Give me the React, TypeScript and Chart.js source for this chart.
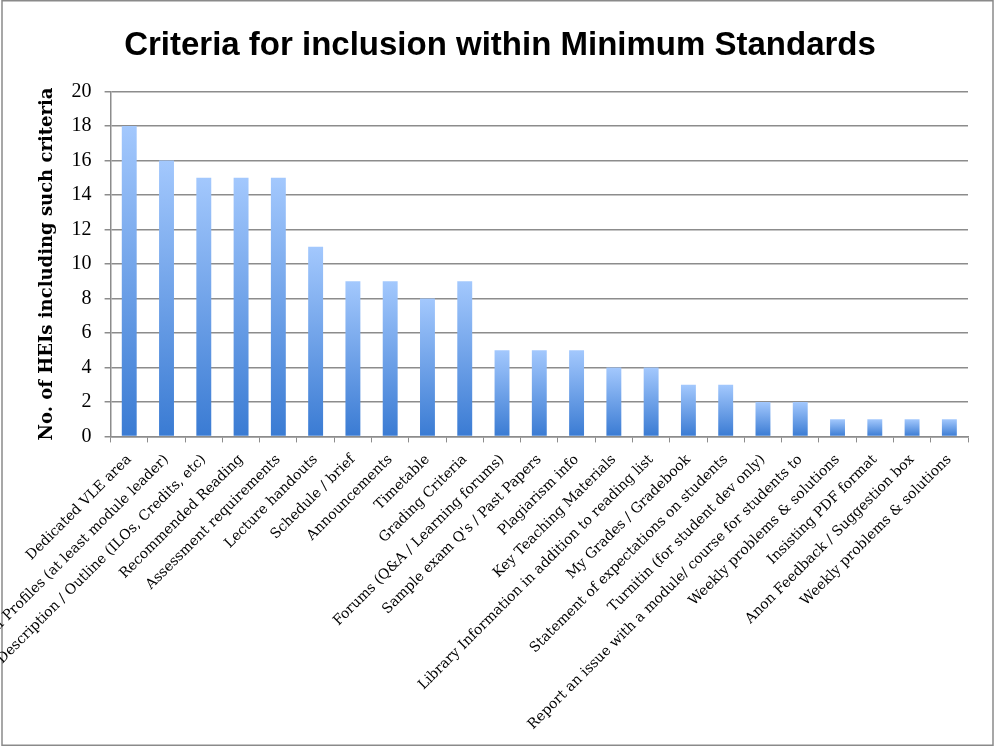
import React, { useEffect, useRef } from "react";
import { Chart, registerables } from "chart.js";

Chart.register(...registerables);

const TITLE = "Criteria for inclusion within Minimum Standards";
const Y_TITLE = "No. of HEIs including such criteria";

const categories = [
  "Dedicated VLE area",
  "Staff Profiles (at least module leader)",
  "Module Description / Outline (ILOs, Credits, etc)",
  "Recommended Reading",
  "Assessment requirements",
  "Lecture handouts",
  "Schedule / brief",
  "Announcements",
  "Timetable",
  "Grading Criteria",
  "Forums (Q&A / Learning forums)",
  "Sample exam Q's / Past Papers",
  "Plagiarism info",
  "Key Teaching Materials",
  "Library Information in addition to reading list",
  "My Grades / Gradebook",
  "Statement of expectations on students",
  "Turnitin (for student dev only)",
  "Report an issue with a module/ course for students to",
  "Weekly problems & solutions",
  "Insisting PDF format",
  "Anon Feedback / Suggestion box",
  "Weekly problems & solutions",
];

const values = [18, 16, 15, 15, 15, 11, 9, 9, 8, 9, 5, 5, 5, 4, 4, 3, 3, 2, 2, 1, 1, 1, 1];

const Y_MIN = 0;
const Y_MAX = 20;
const Y_STEP = 2;

const framePlugin = {
  id: "frame",
  beforeDraw(chart: any) {
    const { ctx, width, height } = chart;
    ctx.save();
    ctx.fillStyle = "#ffffff";
    ctx.fillRect(0, 0, width, height);
    ctx.strokeStyle = "#8a8a8a";
    ctx.lineWidth = 1.5;
    ctx.strokeRect(2, 0.75, width - 5, height - 1.5);
    ctx.restore();
  },
};

export default function App() {
  const ref = useRef<HTMLCanvasElement>(null);

  useEffect(() => {
    document.body.style.margin = "0";
    const canvas = ref.current;
    if (!canvas) return;
    const chart = new Chart(canvas, {
      type: "bar",
      data: {
        labels: categories,
        datasets: [
          {
            data: values,
            barPercentage: 0.4,
            categoryPercentage: 1,
            borderWidth: 0,
            backgroundColor: (c: any) => {
              const ch = c.chart;
              const ys = ch.scales && ch.scales.y;
              if (!ys || c.type !== "data") return "#6fa3ea";
              const top = ys.getPixelForValue(c.raw as number);
              const bottom = ys.getPixelForValue(0);
              if (!isFinite(top) || !isFinite(bottom) || top === bottom) return "#6fa3ea";
              const g = ch.ctx.createLinearGradient(0, top, 0, bottom);
              g.addColorStop(0, "#a3c8fd");
              g.addColorStop(1, "#3a7bd3");
              return g;
            },
          },
        ],
      },
      options: {
        animation: false,
        responsive: false,
        maintainAspectRatio: false,
        layout: { padding: { left: 32, right: 28, top: 0, bottom: 4 } },
        plugins: {
          legend: { display: false },
          tooltip: { enabled: false },
          title: {
            display: true,
            text: TITLE,
            color: "#000000",
            font: { family: "'Liberation Sans Narrow', 'Liberation Sans', sans-serif", size: 33, weight: "bold" },
            padding: { top: 26, bottom: 26 },
          },
        },
        scales: {
          x: {
            grid: {
              display: true,
              drawOnChartArea: false,
              drawTicks: true,
              tickLength: 6,
              color: "#8c8c8c",
              offset: true,
            },
            border: { display: true, color: "#8c8c8c", width: 1.5 },
            ticks: {
              autoSkip: false,
              minRotation: 45,
              maxRotation: 45,
              color: "#000000",
              padding: 9,
              font: { family: "'DejaVu Serif', serif", size: 14 },
            },
          },
          y: {
            min: Y_MIN,
            max: Y_MAX,
            ticks: {
              stepSize: Y_STEP,
              color: "#000000",
              padding: 13,
              font: { family: "'Liberation Serif', serif", size: 20 },
            },
            grid: { color: "#8c8c8c", lineWidth: 1.5, tickLength: 6 },
            border: { display: true, color: "#8c8c8c", width: 1.5 },
            title: {
              display: true,
              text: Y_TITLE,
              color: "#000000",
              font: { family: "'DejaVu Serif', serif", size: 18, weight: "bold" },
              padding: { top: 5, bottom: 0 },
            },
          },
        },
      },
      plugins: [framePlugin],
    } as any);
    return () => chart.destroy();
  }, []);

  return (
    <div style={{ width: 996, height: 746 }}>
      <canvas ref={ref} width={996} height={746} style={{ display: "block" }} />
    </div>
  );
}
